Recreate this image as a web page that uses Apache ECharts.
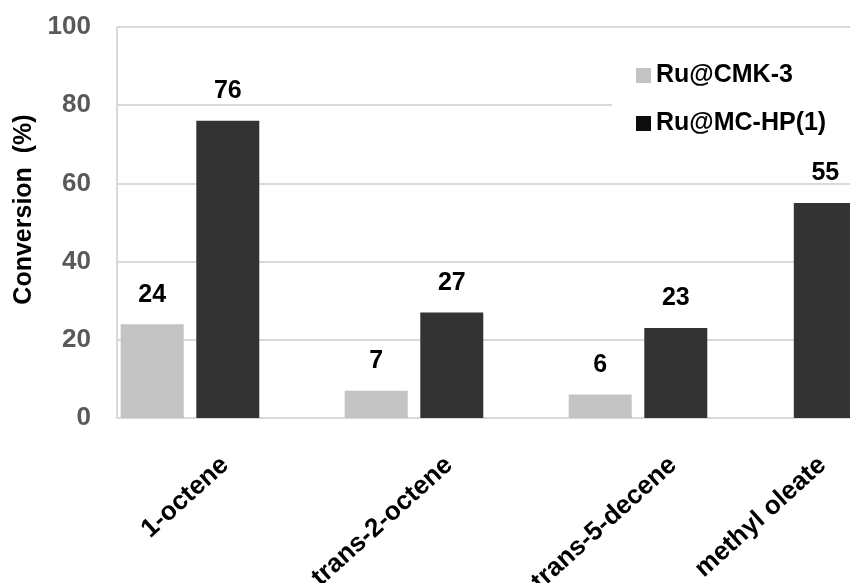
<!DOCTYPE html>
<html>
<head>
<meta charset="utf-8">
<script src="https://cdn.jsdelivr.net/npm/echarts@6/dist/echarts.min.js"></script>
<style>
  html, body { margin: 0; padding: 0; background: #fff; }
  #chart { width: 850px; height: 583px; }
</style>
</head>
<body>
<div id="chart"></div>
<script>
// Substrate conversion for the two ruthenium catalysts
const categories = ['1-octene', 'trans-2-octene', 'trans-5-decene', 'methyl oleate'];
const ruCMK3 = [24, 7, 6, null];
const ruMCHP1 = [76, 27, 23, 55];
const seriesNames = ['Ru@CMK-3', 'Ru@MC-HP(1)'];
const yMin = 0, yMax = 100, yStep = 20;
const yTitle = 'Conversion  (%)';

const FONT = "'Liberation Sans', Arial, sans-serif";
const LIGHT = '#c3c3c3';
const DARK = '#333333';
const GRID_LINE = '#d9d9d9';
const TOP = 27, BOTTOM = 165;

// The last substrate sits in its own, tighter band on the right edge
const bandGroups = [
  { from: 0, to: 3, left: 78, band: 224 },
  { from: 3, to: 4, left: 675.5, band: 224 }
];

const grids = [{ left: 117, right: 0, top: TOP, bottom: BOTTOM, outerBoundsMode: 'none' }];
const xAxes = [{
  type: 'value', gridIndex: 0, min: 0, max: 1,
  axisLine: { show: true, lineStyle: { color: GRID_LINE, width: 2 } },
  axisTick: { show: false }, axisLabel: { show: false }, splitLine: { show: false }
}];
const yAxes = [{
  type: 'value', gridIndex: 0, min: yMin, max: yMax, interval: yStep,
  name: yTitle, nameLocation: 'middle', nameGap: 80,
  nameTextStyle: { fontFamily: FONT, fontWeight: 'bold', fontSize: 25, color: '#000', padding: [0, 0, 0, 26] },
  axisLine: { show: true, lineStyle: { color: GRID_LINE, width: 2 } },
  axisTick: { show: false },
  axisLabel: { fontFamily: FONT, fontWeight: 'bold', fontSize: 26, color: '#595959', margin: 26 },
  splitLine: { show: true, lineStyle: { color: GRID_LINE, width: 2 } }
}];
const series = [];

bandGroups.forEach((g, i) => {
  const gi = i + 1;
  const cats = categories.slice(g.from, g.to);
  grids.push({ left: g.left, width: g.band * cats.length, top: TOP, bottom: BOTTOM, outerBoundsMode: 'none' });
  xAxes.push({
    type: 'category', gridIndex: gi, data: cats,
    axisLine: { show: false }, axisTick: { show: false },
    axisLabel: {
      interval: 0, rotate: 42, margin: 75,
      padding: [0, -47, 0, 0],
      fontFamily: FONT, fontWeight: 'bold', fontSize: 26, color: '#000'
    }
  });
  yAxes.push({
    type: 'value', gridIndex: gi, min: yMin, max: yMax, interval: yStep, show: false,
    splitLine: { show: false }
  });
  [ruCMK3, ruMCHP1].forEach((vals, k) => {
    series.push({
      name: seriesNames[k], type: 'bar',
      xAxisIndex: gi, yAxisIndex: gi,
      data: vals.slice(g.from, g.to),
      barWidth: 63, barGap: '20%',
      itemStyle: { color: k === 0 ? LIGHT : DARK },
      label: {
        show: true, position: 'top', distance: 17,
        fontFamily: FONT, fontWeight: 'bold', fontSize: 25, color: '#000'
      }
    });
  });
});

const chart = echarts.init(document.getElementById('chart'), null, { renderer: 'canvas' });
chart.setOption({
  animation: false,
  backgroundColor: '#fff',
  grid: grids,
  xAxis: xAxes,
  yAxis: yAxes,
  legend: {
    orient: 'vertical', left: 612, top: 52,
    padding: [11, 30, 11, 24],
    backgroundColor: '#fff',
    itemWidth: 15, itemHeight: 15, itemGap: 23,
    icon: 'rect',
    data: [
      { name: seriesNames[0], itemStyle: { color: LIGHT } },
      { name: seriesNames[1], itemStyle: { color: '#0d0d0d' } }
    ],
    textStyle: { fontFamily: FONT, fontWeight: 'bold', fontSize: 25, color: '#000' }
  },
  series: series
});
</script>
</body>
</html>
